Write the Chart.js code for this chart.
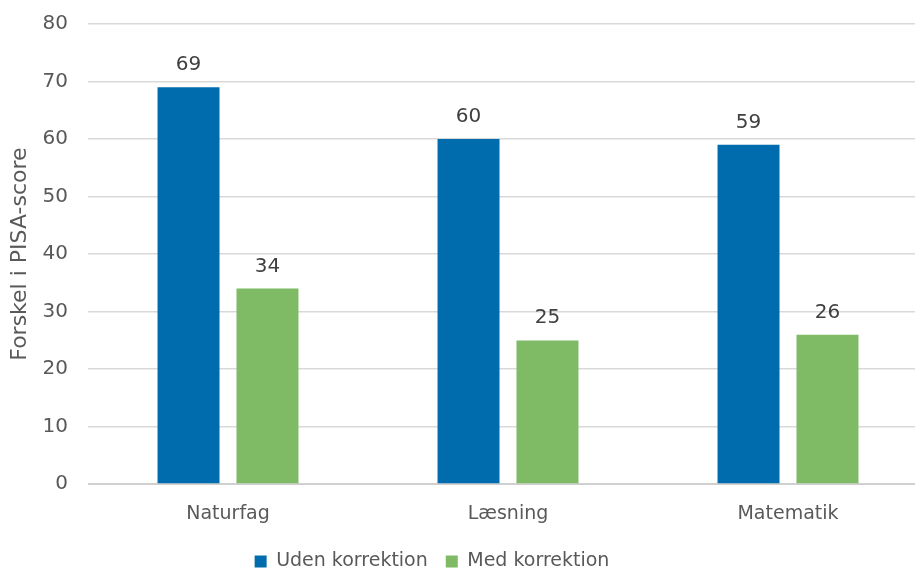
<!DOCTYPE html>
<html>
<head>
<meta charset="utf-8">
<script src="https://cdn.jsdelivr.net/npm/chart.js@4.4.1/dist/chart.umd.min.js"></script>
<style>
    html, body { margin: 0; padding: 0; background: #ffffff; overflow: hidden; }
    #wrap { width: 915px; height: 570px; overflow: hidden; }
    #myChart { display: block; margin-top: -8px; }
</style>
</head>
<body>
<div id="wrap"><canvas id="myChart" width="928" height="590"></canvas></div>
<script>

let categories = ["Naturfag", "Læsning", "Matematik"];
let udenKorrektion = [69, 60, 59];
let medKorrektion = [34, 25, 26];
let seriesNames = ["Uden korrektion", "Med korrektion"];
let yTicks = [0, 10, 20, 30, 40, 50, 60, 70, 80];

let textColor = "#595959";
let fontFamily = "'DejaVu Sans', Verdana, sans-serif";

/* value labels above each bar */
let valueLabels = {
    id: "valueLabels",
    afterDatasetsDraw(chart) {
        let ctx = chart.ctx;
        ctx.save();
        ctx.font = "20px " + fontFamily;
        ctx.fillStyle = "#404040";
        ctx.textAlign = "center";
        ctx.textBaseline = "alphabetic";
        chart.data.datasets.forEach((ds, i) => {
            chart.getDatasetMeta(i).data.forEach((bar, j) => {
                ctx.fillText(ds.data[j], bar.x, bar.y - 17);
            });
        });
        ctx.restore();
    }
};

/* legend sits a bit left of centre, like the original */
let shiftLegend = {
    id: "shiftLegend",
    afterLayout(chart) {
        let lg = chart.legend;
        lg.left -= 32;
        lg.right -= 32;
        lg.top -= 1;
        lg.bottom -= 1;
    }
};

let ctx = document.getElementById("myChart").getContext("2d");

let chart = new Chart(ctx, {
    type: "bar",

    data: {
        labels: categories,
        datasets: [{
            label: seriesNames[0],
            data: udenKorrektion,
            backgroundColor: "#006cad",
            categoryPercentage: 0.564,
            barPercentage: 0.785
        }, {
            label: seriesNames[1],
            data: medKorrektion,
            backgroundColor: "#7fba64",
            categoryPercentage: 0.564,
            barPercentage: 0.785
        }]
    },

    options: {
        responsive: false,
        animation: false,
        layout: {
            padding: { top: 0, right: 0, left: 0, bottom: 0 }
        },

        plugins: {
            legend: {
                position: "bottom",
                labels: {
                    color: textColor,
                    font: { size: 19, family: fontFamily },
                    usePointStyle: true,
                    pointStyle: "rect",
                    boxWidth: 12,
                    boxHeight: 12,
                    padding: 18
                }
            },
            tooltip: { enabled: false }
        },

        scales: {

            x: {
                grid: {
                    display: false
                },
                border: {
                    display: false
                },
                ticks: {
                    color: textColor,
                    font: { size: 19, family: fontFamily },
                    padding: 10
                }
            },

            y: {
                min: 0,
                max: 80,
                afterBuildTicks: (scale) => {
                    scale.ticks = yTicks.map(v => ({ value: v }));
                },
                afterFit: (scale) => {
                    scale.width = 88;
                },
                ticks: {
                    color: textColor,
                    font: { size: 20, family: fontFamily },
                    padding: 20
                },
                title: {
                    display: true,
                    text: "Forskel i PISA-score",
                    color: textColor,
                    font: { size: 22, family: fontFamily },
                    padding: { top: 7, bottom: 0 }
                },
                border: {
                    display: false
                },
                grid: {
                    color: (c) => c.tick.value === 0 ? "#d0d0d0" : "#d9d9d9",
                    lineWidth: (c) => c.tick.value === 0 ? 2 : 1.5,
                    drawTicks: false
                }
            }

        }
    },

    plugins: [valueLabels, shiftLegend]
});

</script>
</body>
</html>
